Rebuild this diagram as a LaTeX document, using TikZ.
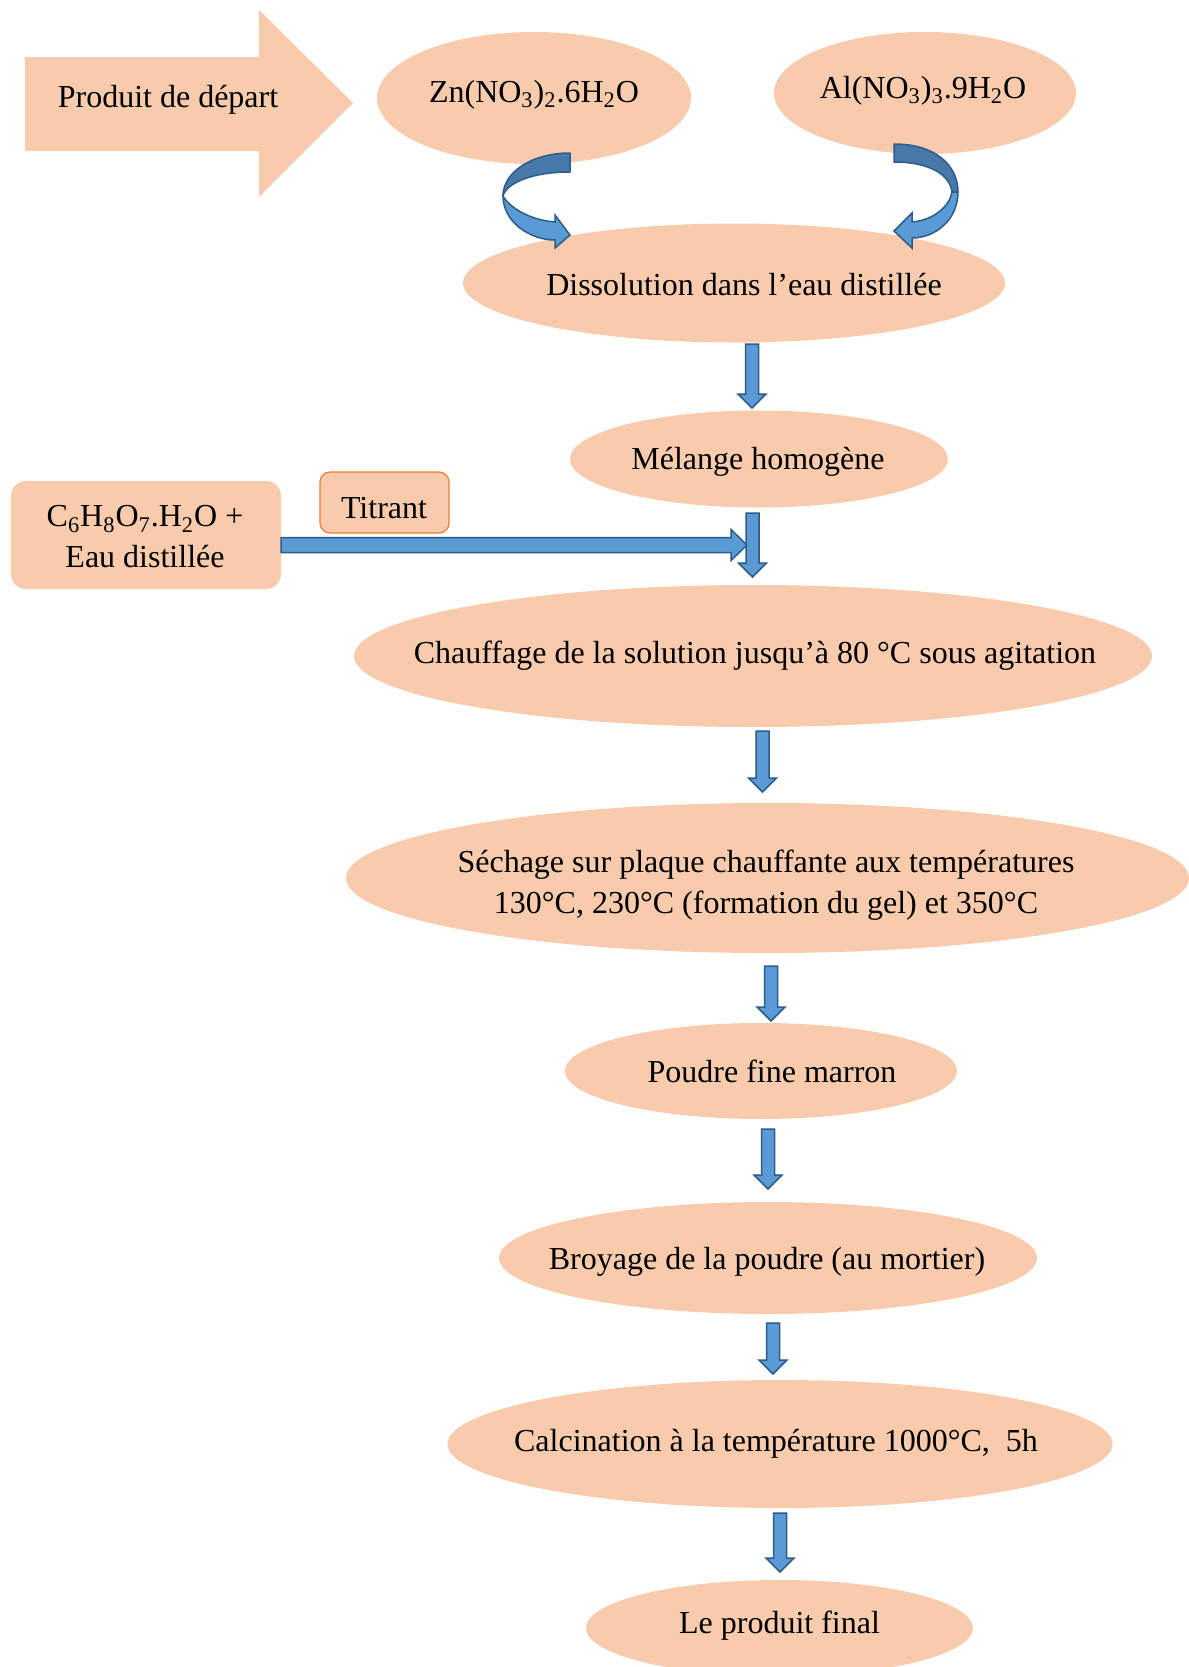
\documentclass[tikz,border=0pt]{standalone}
\usepackage{fontspec}
\setmainfont{Liberation Serif}
\usetikzlibrary{calc,shapes.geometric}
\definecolor{peach}{HTML}{F8CBAD}
\definecolor{blueL}{HTML}{5B9BD5}
\definecolor{blueD}{HTML}{4778AA}
\definecolor{blueE}{HTML}{2E5C8A}
\definecolor{orangeE}{HTML}{ED7D31}
\begin{document}
\begin{tikzpicture}[x=0.5pt,y=-0.5pt,
  oval/.style={ellipse, fill=peach, inner sep=0pt, outer sep=0pt},
  txt/.style={font=\fontsize{16}{20.5}\selectfont, align=center, inner sep=0pt},
  blk/.style={fill=blueL, draw=blueE, line width=0.75pt, line join=miter},
  downarrow/.style={blk, to path={($(\tikztostart)+(-6.5,0)$) -- ($(\tikztotarget)+(-6.5,-14)$) -- ($(\tikztotarget)+(-14,-14)$) -- (\tikztotarget) -- ($(\tikztotarget)+(14,-14)$) -- ($(\tikztotarget)+(6.5,-14)$) -- ($(\tikztostart)+(6.5,0)$) -- cycle}},
  rightarrow/.style={blk, to path={($(\tikztostart)+(0,-7.5)$) -- ($(\tikztotarget)+(-16,-7.5)$) -- ($(\tikztotarget)+(-16,-15.5)$) -- (\tikztotarget) -- ($(\tikztotarget)+(-16,15.5)$) -- ($(\tikztotarget)+(-16,7.5)$) -- ($(\tikztostart)+(0,7.5)$) -- cycle}}
]
\useasboundingbox (0,0) rectangle (1189,1667);
\fill[white] (0,0) rectangle (1189,1667);

% big arrow
\fill[peach] (25,57) -- (259,57) -- (259,10) -- (353,103) -- (259,197) -- (259,151) -- (25,151) -- cycle;
\node[txt] (prod) at (168,100) {Produit de départ};

% ellipses
\node[oval, minimum width=157pt, minimum height=66pt] (zn) at (534,98) {};
\node[oval, minimum width=151pt, minimum height=61pt] (al) at (925,93) {};
\node[oval, minimum width=271pt, minimum height=59.5pt] (dis) at (734,283) {};
\node[oval, minimum width=189pt, minimum height=48.5pt] (mel) at (759,459) {};
\node[oval, minimum width=399pt, minimum height=71pt] (cha) at (753,656) {};
\node[oval, minimum width=421.5pt, minimum height=75pt] (sec) at (767.5,878) {};
\node[oval, minimum width=196pt, minimum height=48pt] (pou) at (761,1071) {};
\node[oval, minimum width=269pt, minimum height=56pt] (bro) at (768,1258) {};
\node[oval, minimum width=332.5pt, minimum height=64pt] (cal) at (780,1444) {};
\node[oval, minimum width=193.5pt, minimum height=48pt] (fin) at (779.5,1628) {};

% texts
\node[txt] (tzn) at (534,95) {Zn(NO\textsubscript{3})\textsubscript{2}.6H\textsubscript{2}O};
\node[txt] (tal) at (923,91) {Al(NO\textsubscript{3})\textsubscript{3}.9H\textsubscript{2}O};
\node[txt] (tdis) at (744,285) {Dissolution dans l’eau distillée};
\node[txt] (tmel) at (758,462) {Mélange homogène};
\node[txt] (tcha) at (755,656) {Chauffage de la solution jusqu’à 80 °C sous agitation};
\node[txt] (tsec) at (766,885) {Séchage sur plaque chauffante aux températures\\130°C, 230°C (formation du gel) et 350°C};
\node[txt] (tpou) at (772,1071) {Poudre fine marron};
\node[txt] (tbro) at (767,1262) {Broyage de la poudre (au mortier)};
\node[txt] (tcal) at (776,1444) {Calcination à la température 1000°C,\ \ 5h};
\node[txt] (tfin) at (779.5,1626) {Le produit final};

% left box and titrant
\node[fill=peach, rounded corners=7.5pt, minimum width=135pt, minimum height=54pt, inner sep=0pt] (src) at (146,535) {};
\node[txt] (tsrc) at (145,537) {C\textsubscript{6}H\textsubscript{8}O\textsubscript{7}.H\textsubscript{2}O +\\Eau distillée};
\node[fill=peach, draw=orangeE, line width=0.6pt, rounded corners=5pt, minimum width=64.5pt, minimum height=30.5pt, inner sep=0pt] (tit) at (384.5,502.5) {};
\node[txt] (ttit) at (384,508) {Titrant};

% curved arrows
\filldraw[fill=blueD, draw=blueE, line width=0.75pt, line join=round]
  (570,153) .. controls (532,153) and (503,172) .. (503,196)
  .. controls (506,184) and (530,172) .. (570,172) -- cycle;
\filldraw[blk, line join=miter]
  (503,196) .. controls (503,222) and (530,240) .. (555,240) -- (555,248) -- (570,235) -- (555,215) -- (555,222)
  .. controls (530,220) and (510,208) .. (503,196) -- cycle;
\filldraw[fill=blueD, draw=blueE, line width=0.75pt, line join=round]
  (894,144) .. controls (935,144) and (958,165) .. (958,192) -- (952,192)
  .. controls (950,175) and (930,162) .. (894,162) -- cycle;
\filldraw[blk, line join=miter]
  (958,192) .. controls (958,220) and (935,238) .. (912,238) -- (912,248) -- (894,231) -- (912,213) -- (912,222)
  .. controls (935,220) and (950,205) .. (952,192) -- cycle;

% straight arrows
\coordinate (a1s) at (752,344);  \coordinate (a1e) at (752,408);
\coordinate (h1) at (281,545);   \coordinate (h2) at (747,545);
\coordinate (a2s) at (752.5,513); \coordinate (a2e) at (752.5,577);
\coordinate (a3s) at (762.5,731); \coordinate (a3e) at (762.5,792);
\coordinate (a4s) at (771,966);  \coordinate (a4e) at (771,1021);
\coordinate (a5s) at (768,1129); \coordinate (a5e) at (768,1189);
\coordinate (a6s) at (773,1323); \coordinate (a6e) at (773,1374);
\coordinate (a7s) at (780,1513); \coordinate (a7e) at (780,1572);

\draw[downarrow] (a1s) to (a1e);
\draw[rightarrow] (h1) to (h2);
\draw[downarrow] (a2s) to (a2e);
\draw[downarrow] (a3s) to (a3e);
\draw[downarrow] (a4s) to (a4e);
\draw[downarrow] (a5s) to (a5e);
\draw[downarrow] (a6s) to (a6e);
\draw[downarrow] (a7s) to (a7e);
\end{tikzpicture}
\end{document}
